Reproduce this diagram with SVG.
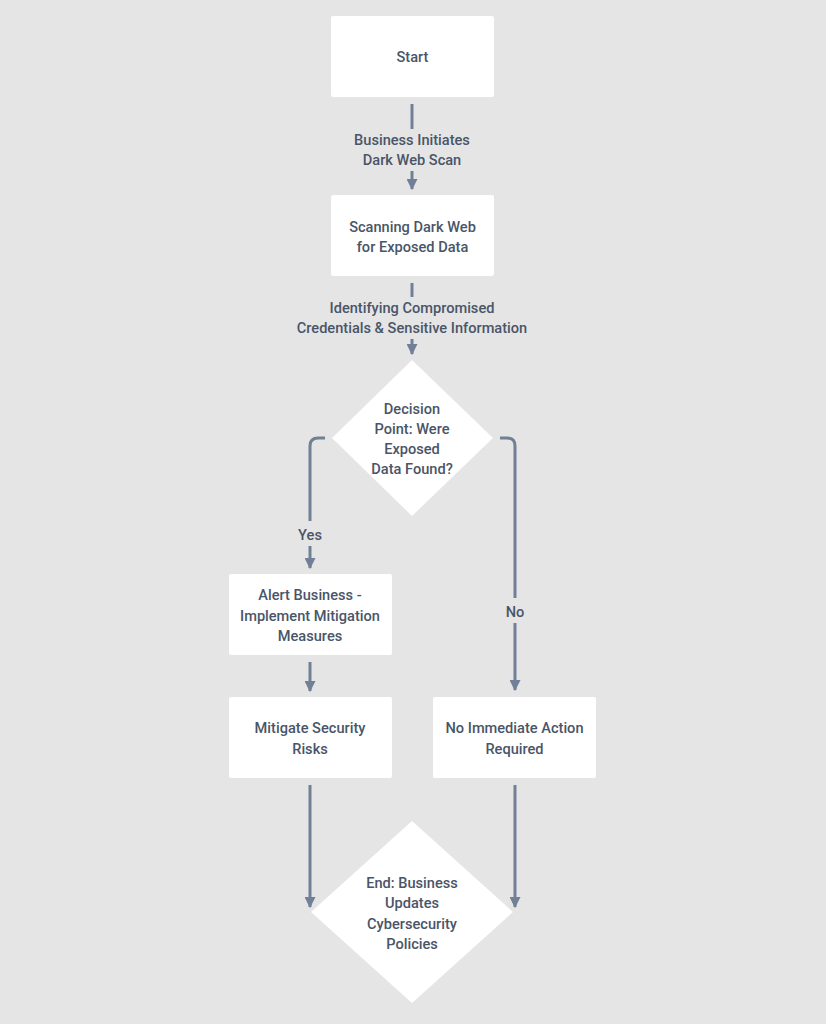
<svg xmlns="http://www.w3.org/2000/svg" width="826" height="1024" viewBox="0 0 826 1024">
<defs>
<marker id="arr" viewBox="0 0 10 10" refX="9" refY="5" markerWidth="11" markerHeight="11" markerUnits="userSpaceOnUse" orient="auto">
<path d="M0,0 L10,5 L0,10 Z" fill="#718096"/>
</marker>
</defs>
<style>
.node{fill:#ffffff;}
.t{font-family:Roboto,"Liberation Sans",sans-serif;font-size:14.6px;font-weight:500;fill:#4a5568;text-anchor:middle;}
.c{fill:none;stroke:#718096;stroke-width:3;}
.ca{fill:none;stroke:#718096;stroke-width:3;marker-end:url(#arr);}
</style>
<rect width="826" height="1024" fill="#e5e5e5"/>
<g id="connectors">
<path class="c" d="M412,104 V129"/>
<text class="t" x="412" y="145">Business Initiates</text>
<text class="t" x="412" y="165">Dark Web Scan</text>
<path class="ca" d="M412,171 V189"/>
<path class="c" d="M412,283 V297"/>
<text class="t" x="412" y="313">Identifying Compromised</text>
<text class="t" x="412" y="333">Credentials &amp; Sensitive Information</text>
<path class="ca" d="M412,339 V354"/>
<path class="c" d="M325,438 H318 Q310,438 310,446 V521"/>
<text class="t" x="310" y="540">Yes</text>
<path class="ca" d="M310,546 V568"/>
<path class="c" d="M500,438 H507 Q515,438 515,446 V598"/>
<text class="t" x="515" y="617">No</text>
<path class="ca" d="M515,623 V690"/>
<path class="ca" d="M310,662 V691"/>
<path class="ca" d="M310,785 V907"/>
<path class="ca" d="M515,785 V907"/>
</g>
<g id="start">
<rect class="node" x="331" y="16" width="163" height="81" rx="2"/>
<text class="t" x="412.5" y="62">Start</text>
</g>
<g id="scan">
<rect class="node" x="331" y="195" width="163" height="81" rx="2"/>
<text class="t" x="412.5" y="232">Scanning Dark Web</text>
<text class="t" x="412.5" y="252">for Exposed Data</text>
</g>
<g id="decision">
<polygon class="node" points="412,360 493,438 412,516 332,438"/>
<text class="t" x="412" y="414">Decision</text>
<text class="t" x="412" y="434">Point: Were</text>
<text class="t" x="412" y="454">Exposed</text>
<text class="t" x="412" y="474">Data Found?</text>
</g>
<g id="alert">
<rect class="node" x="229" y="574" width="163" height="81" rx="2"/>
<text class="t" x="310" y="600">Alert Business -</text>
<text class="t" x="310" y="621">Implement Mitigation</text>
<text class="t" x="310" y="641">Measures</text>
</g>
<g id="mitigate">
<rect class="node" x="229" y="697" width="163" height="81" rx="2"/>
<text class="t" x="310" y="733">Mitigate Security</text>
<text class="t" x="310" y="754">Risks</text>
</g>
<g id="noaction">
<rect class="node" x="433" y="697" width="163" height="81" rx="2"/>
<text class="t" x="514.5" y="733">No Immediate Action</text>
<text class="t" x="514.5" y="754">Required</text>
</g>
<g id="end">
<polygon class="node" points="412,821 513,912 412,1003 311,912"/>
<text class="t" x="412" y="888">End: Business</text>
<text class="t" x="412" y="908">Updates</text>
<text class="t" x="412" y="929">Cybersecurity</text>
<text class="t" x="412" y="949">Policies</text>
</g>
</svg>
